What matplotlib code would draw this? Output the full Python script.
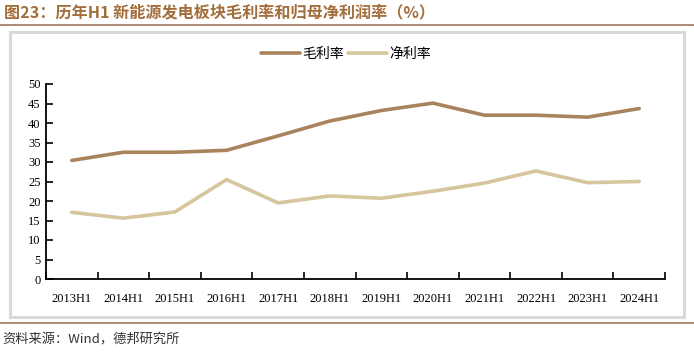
import matplotlib
matplotlib.use('Agg')
import matplotlib.pyplot as plt
from matplotlib.patches import Rectangle
from matplotlib.lines import Line2D

plt.rcParams['font.family'] = ['Noto Sans CJK SC', 'DejaVu Sans']

categories = ['2013H1', '2014H1', '2015H1', '2016H1', '2017H1', '2018H1',
              '2019H1', '2020H1', '2021H1', '2022H1', '2023H1', '2024H1']
gross_margin = [30.4, 32.5, 32.5, 33.0, 36.7, 40.5, 43.2, 45.1, 42.0, 42.0, 41.5, 43.7]
net_margin = [17.1, 15.6, 17.2, 25.5, 19.5, 21.3, 20.7, 22.5, 24.6, 27.7, 24.7, 25.0]
series_names = ['毛利率', '净利率']
y_ticks = [0, 5, 10, 15, 20, 25, 30, 35, 40, 45, 50]

W, H = 694, 352
fig = plt.figure(figsize=(W / 100, H / 100), dpi=100)

# frame decoration
fig.text(4 / W, 1 - 12 / H, '图23：历年H1 新能源发电板块毛利率和归母净利润率（%）',
         fontsize=11.6, fontweight='bold', color='#a46e3c', va='center', ha='left')
fig.add_artist(Line2D([0, 1], [1 - 25 / H, 1 - 25 / H], color='#a0785a', lw=1.2))
fig.add_artist(Line2D([0, 1], [1 - 323 / H, 1 - 323 / H], color='#a0785a', lw=1.2))
fig.add_artist(Rectangle((10 / W, 1 - 317 / H), 674 / W, 285 / H, fill=False,
                         edgecolor='#d9d9d9', lw=2.2))
fig.text(2 / W, 1 - 340 / H, '资料来源：Wind，德邦研究所', fontsize=9.5,
         color='#333333', va='center', ha='left')

ax = fig.add_axes([46 / W, 1 - 279 / H, 619 / W, 195 / H])
x = list(range(len(categories)))
ax.plot(x, gross_margin, color='#a8835c', lw=2.6, label=series_names[0], solid_capstyle='round')
ax.plot(x, net_margin, color='#d6c59d', lw=2.6, label=series_names[1], solid_capstyle='round')

ax.set_xlim(-0.5, len(categories) - 0.5)
ax.set_ylim(0, 50)
ax.set_yticks(y_ticks)
ax.set_yticklabels([str(v) for v in y_ticks], family='Liberation Serif', fontsize=9)
ax.set_xticks(x)
ax.set_xticklabels(categories, family='Liberation Serif', fontsize=9)
ax.set_xticks([i - 0.5 for i in range(len(categories) + 1)], minor=True)
ax.tick_params(axis='x', which='major', length=0, pad=10)
ax.tick_params(axis='x', which='minor', direction='in', length=5, width=1.2)
ax.tick_params(axis='y', direction='in', length=5, width=1.2, pad=4)
for s in ['top', 'right']:
    ax.spines[s].set_visible(False)
for s in ['left', 'bottom']:
    ax.spines[s].set_linewidth(1.3)

ax.legend(loc='center', bbox_to_anchor=(346 / W, 1 - 54 / H), bbox_transform=fig.transFigure,
          ncol=2, frameon=False, fontsize=10, handlelength=2.8, handletextpad=0.2,
          columnspacing=0.3)

fig.savefig('out.png', dpi=100)
